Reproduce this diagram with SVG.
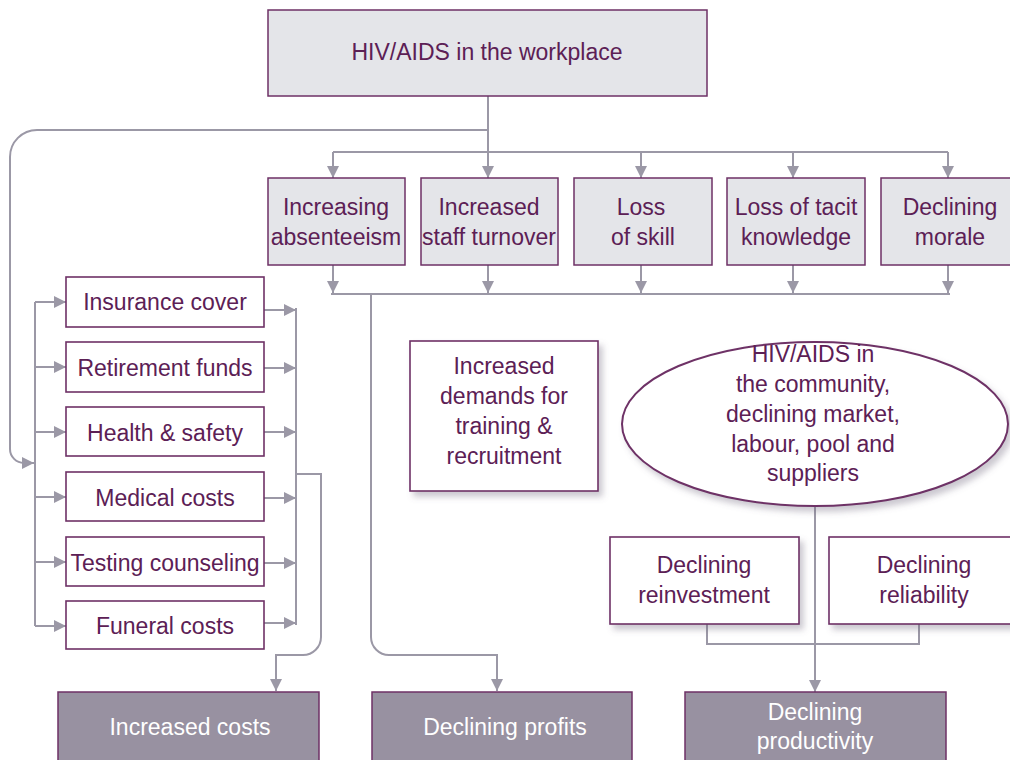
<svg xmlns="http://www.w3.org/2000/svg" width="1010" height="760" viewBox="0 0 1010 760">
<style>
text{font-family:"Liberation Sans",Arial,sans-serif;font-size:23px;fill:#5c2055;text-anchor:middle}
.g{fill:#e4e5e9;stroke:#6e3166;stroke-width:1.5}
.w{fill:#fff;stroke:#6e3166;stroke-width:1.6}
.e{fill:#fff;stroke:#6e3166;stroke-width:2}
.d{fill:#9891a1;stroke:#6e3166;stroke-width:1.5}
.dt{fill:#fff}
.c path{fill:none;stroke:#9b98a6;stroke-width:2}
</style>
<defs>
<marker id="a" viewBox="0 0 12 12" refX="12" refY="6" markerWidth="12" markerHeight="12" markerUnits="userSpaceOnUse" orient="auto"><path d="M0,0L12,6L0,12z" fill="#9b98a6"/></marker>
<filter id="s" x="-10%" y="-10%" width="130%" height="140%"><feDropShadow dx="4" dy="5" stdDeviation="3" flood-color="#6b6378" flood-opacity="0.35"/></filter>
</defs>
<rect width="1010" height="760" fill="#fff"/>
<g class="c">
<path d="M488,96V130"/>
<path d="M488,130H37A27,27 0 0 0 10,157V449A14,14 0 0 0 24,463H34" marker-end="url(#a)"/>
<path d="M333,152H948"/>
<path d="M488,130V178" marker-end="url(#a)"/>
<path d="M333,152V178" marker-end="url(#a)"/>
<path d="M641,152V178" marker-end="url(#a)"/>
<path d="M793,152V178" marker-end="url(#a)"/>
<path d="M948,152V178" marker-end="url(#a)"/>
<path d="M333,265V293" marker-end="url(#a)"/>
<path d="M488,265V293" marker-end="url(#a)"/>
<path d="M641,265V293" marker-end="url(#a)"/>
<path d="M793,265V293" marker-end="url(#a)"/>
<path d="M948,265V293" marker-end="url(#a)"/>
<path d="M331,294H950"/>
<path d="M371,294V637A18,18 0 0 0 389,655H497V691" marker-end="url(#a)"/>
<path d="M35,302V626"/>
<path d="M35,302H66" marker-end="url(#a)"/>
<path d="M35,367H66" marker-end="url(#a)"/>
<path d="M35,432H66" marker-end="url(#a)"/>
<path d="M35,497H66" marker-end="url(#a)"/>
<path d="M35,562H66" marker-end="url(#a)"/>
<path d="M35,626H66" marker-end="url(#a)"/>
<path d="M296,308V625"/>
<path d="M264,310H296" marker-end="url(#a)"/>
<path d="M264,368H296" marker-end="url(#a)"/>
<path d="M264,432H296" marker-end="url(#a)"/>
<path d="M264,498H296" marker-end="url(#a)"/>
<path d="M264,563H296" marker-end="url(#a)"/>
<path d="M264,623H296" marker-end="url(#a)"/>
<path d="M296,474H321V637A18,18 0 0 1 303,655H276V691" marker-end="url(#a)"/>
<path d="M815,506V692" marker-end="url(#a)"/>
<path d="M707,624V644H919V624"/>
</g>
<g id="top"><rect class="g" x="268" y="10" width="439" height="86"/><text x="487" y="60">HIV/AIDS in the workplace</text></g>
<g id="absent"><rect class="g" x="268" y="178" width="137" height="87"/><text x="336" y="215">Increasing</text><text x="336" y="245">absenteeism</text></g>
<g id="turnover"><rect class="g" x="421" y="178" width="137" height="87"/><text x="489" y="215">Increased</text><text x="489" y="245">staff turnover</text></g>
<g id="skill"><rect class="g" x="574" y="178" width="138" height="87"/><text x="641" y="215">Loss</text><text x="643" y="245">of skill</text></g>
<g id="tacit"><rect class="g" x="727" y="178" width="138" height="87"/><text x="796" y="215">Loss of tacit</text><text x="796" y="245">knowledge</text></g>
<g id="morale"><rect class="g" x="881" y="178" width="140" height="87"/><text x="950" y="215">Declining</text><text x="950" y="245">morale</text></g>
<g id="insurance"><rect class="w" x="66" y="277" width="198" height="50"/><text x="165" y="310">Insurance cover</text></g>
<g id="retirement"><rect class="w" x="66" y="342" width="198" height="50"/><text x="165" y="376">Retirement funds</text></g>
<g id="health"><rect class="w" x="66" y="407" width="198" height="49"/><text x="165" y="441">Health &amp; safety</text></g>
<g id="medical"><rect class="w" x="66" y="472" width="198" height="49"/><text x="165" y="506">Medical costs</text></g>
<g id="testing"><rect class="w" x="66" y="537" width="198" height="49"/><text x="165" y="571">Testing counseling</text></g>
<g id="funeral"><rect class="w" x="66" y="601" width="198" height="48"/><text x="165" y="634">Funeral costs</text></g>
<g id="demands"><rect class="w" x="410" y="341" width="188" height="150" filter="url(#s)"/><text x="504" y="374">Increased</text><text x="504" y="404">demands for</text><text x="504" y="434">training &amp;</text><text x="504" y="464">recruitment</text></g>
<g id="community"><ellipse class="e" cx="815" cy="424" rx="193" ry="82" filter="url(#s)"/><text x="813" y="362">HIV/AIDS in</text><text x="813" y="392">the community,</text><text x="813" y="422">declining market,</text><text x="813" y="452">labour, pool and</text><text x="813" y="481">suppliers</text></g>
<g id="reinvest"><rect class="w" x="610" y="537" width="189" height="87" filter="url(#s)"/><text x="704" y="573">Declining</text><text x="704" y="603">reinvestment</text></g>
<g id="reliab"><rect class="w" x="829" y="537" width="190" height="87" filter="url(#s)"/><text x="924" y="573">Declining</text><text x="924" y="603">reliability</text></g>
<g id="costs"><rect class="d" x="58" y="692" width="261" height="80"/><text class="dt" x="190" y="735">Increased costs</text></g>
<g id="profits"><rect class="d" x="372" y="692" width="260" height="80"/><text class="dt" x="505" y="735">Declining profits</text></g>
<g id="productivity"><rect class="d" x="685" y="692" width="261" height="80"/><text class="dt" x="815" y="720">Declining</text><text class="dt" x="815" y="749">productivity</text></g>
</svg>
